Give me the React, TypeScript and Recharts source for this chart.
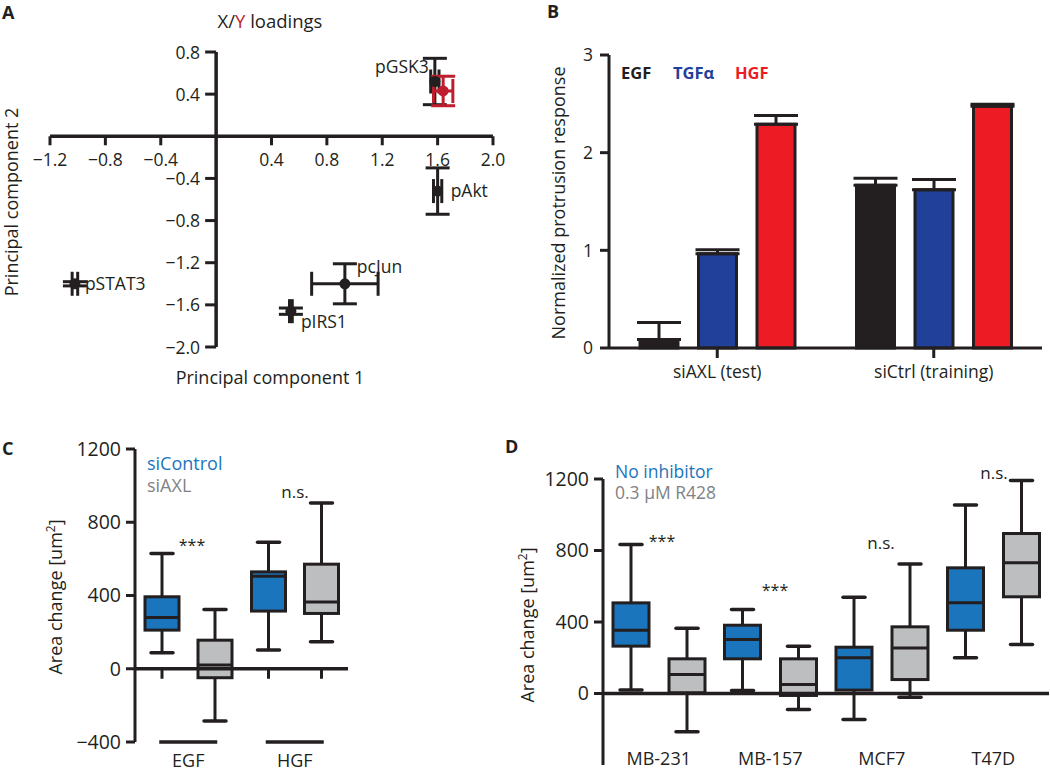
import React from 'react';
import {
  ScatterChart,
  Scatter,
  BarChart,
  Bar,
  XAxis,
  YAxis,
  ErrorBar,
  ReferenceLine,
} from 'recharts';

const FONT = "'Open Sans', 'Noto Sans', sans-serif";
const INK = '#231f20';
const RED_Y = '#be1e2d';
const BLUE_BOX = '#1b75bc';
const GRAY_BOX = '#bcbec0';
const GRAY_TEXT = '#808285';

// A: PCA loadings (X = phospho signals, Y = protrusion response)
const PC_NAMES = ['pGSK3', 'pAkt', 'pcJun', 'pIRS1', 'pSTAT3'];
const PC1 = [1.58, 1.6, 0.93, 0.54, -1.02];
const PC2 = [0.52, -0.52, -1.4, -1.66, -1.4];
const PC1_ERR = [0.03, 0.03, 0.24, 0.01, 0.02];
const PC2_ERR = [0.22, 0.22, 0.19, 0.03, 0.02];
const Y_PC1 = [1.64];
const Y_PC2 = [0.43];
const Y_PC1_ERR = [0.07];
const Y_PC2_ERR = [0.14];
const A_XTICKS = [-1.2, -0.8, -0.4, 0.4, 0.8, 1.2, 1.6, 2.0];
const A_YTICKS = [0.8, 0.4, -0.4, -0.8, -1.2, -1.6, -2.0];

// B: protrusion response per ligand
const B_GROUPS = ['siAXL (test)', 'siCtrl (training)'];
const EGF = [0.086, 1.667];
const EGF_SEM = [0.175, 0.07];
const TGFA = [0.965, 1.62];
const TGFA_SEM = [0.04, 0.105];
const HGF = [2.29, 2.475];
const HGF_SEM = [0.09, 0.02];

// C: box stats [min, q1, median, q3, max]
const C_GROUPS = ['EGF', 'HGF'];
const C_SICONTROL = [
  [87, 211, 280, 393, 629],
  [102, 315, 505, 529, 691],
];
const C_SIAXL = [
  [-285, -49, 20, 156, 324],
  [147, 302, 365, 571, 905],
];

// D: box stats [min, q1, median, q3, max]
const D_LINES = ['MB-231', 'MB-157', 'MCF7', 'T47D'];
const D_NO_INHIB = [
  [19, 265, 354, 507, 834],
  [17, 194, 302, 382, 470],
  [-145, 19, 200, 259, 539],
  [200, 354, 507, 703, 1054],
];
const D_R428 = [
  [-214, 4, 106, 194, 365],
  [-90, -11, 50, 194, 265],
  [-21, 78, 254, 373, 725],
  [274, 541, 731, 895, 1192],
];
const AREA_TICKS = [-400, 0, 400, 800, 1200];

// panel A plot box (the axes cross at the origin)
const A_W = 520;
const A_H = 400;
const A_LEFT = 50;
const A_RIGHT = 493;
const A_TOP = 52;
const A_BOTTOM = 347;
const A_XDOM: [number, number] = [-1.2, 2.0];
const A_YDOM: [number, number] = [-2.0, 0.8];
const A_ZERO_X = A_LEFT + ((0 - A_XDOM[0]) / (A_XDOM[1] - A_XDOM[0])) * (A_RIGHT - A_LEFT);
const A_ZERO_Y = A_TOP + ((A_YDOM[1] - 0) / (A_YDOM[1] - A_YDOM[0])) * (A_BOTTOM - A_TOP);

const LABEL_PLACE: Record<string, [number, number, 'start' | 'end']> = {
  pGSK3: [-6, -15, 'end'],
  pAkt: [13, 0, 'start'],
  pcJun: [12, -17, 'start'],
  pIRS1: [10, 11, 'start'],
  pSTAT3: [10, 0, 'start'],
};

const fmtSigned = (v: number, digits = 1) =>
  v < 0 ? `\u2212${Math.abs(v).toFixed(digits)}` : v.toFixed(digits);
const fmtArea = (v: number) => (v < 0 ? `\u2212${Math.abs(v)}` : String(v));

const xLoadings = PC_NAMES.map((name, i) => ({
  name,
  x: PC1[i],
  y: PC2[i],
  ex: PC1_ERR[i],
  ey: PC2_ERR[i],
}));
const yLoadings = Y_PC1.map((x, i) => ({
  name: 'protrusion',
  x,
  y: Y_PC2[i],
  ex: Y_PC1_ERR[i],
  ey: Y_PC2_ERR[i],
}));

const bData = B_GROUPS.map((group, i) => ({
  group,
  egf: EGF[i],
  egfErr: [0, EGF_SEM[i]],
  tgfa: TGFA[i],
  tgfaErr: [0, TGFA_SEM[i]],
  hgf: HGF[i],
  hgfErr: [0, HGF_SEM[i]],
}));

const cData = C_GROUPS.map((group, i) => ({ group, ctrl: C_SICONTROL[i], axl: C_SIAXL[i] }));
const dData = D_LINES.map((line, i) => ({ line, ctrl: D_NO_INHIB[i], r428: D_R428[i] }));

// draws a box-and-whisker glyph inside a [min, max] range bar
function boxShape(key: string, fill: string, zeroTick: boolean) {
  return (props: any) => {
    const { x, width, payload } = props;
    const stats: number[] = payload[key];
    const [mn, q1, md, q3, mx] = stats;
    const top = Math.min(props.y, props.y + props.height);
    const h = Math.abs(props.height);
    const py = (v: number) => top + ((mx - v) / (mx - mn)) * h;
    const cx = x + width / 2;
    const cap = 11;
    return (
      <g>
        {zeroTick && (
          <line x1={cx} x2={cx} y1={py(0)} y2={py(0) + 10} stroke={INK} strokeWidth={3} />
        )}
        <line x1={cx} x2={cx} y1={py(mx)} y2={py(mn)} stroke={INK} strokeWidth={3} />
        <line x1={cx - cap} x2={cx + cap} y1={py(mx)} y2={py(mx)} stroke={INK} strokeWidth={3.5} strokeLinecap="round" />
        <line x1={cx - cap} x2={cx + cap} y1={py(mn)} y2={py(mn)} stroke={INK} strokeWidth={3.5} strokeLinecap="round" />
        <rect x={x} y={py(q3)} width={width} height={py(q1) - py(q3)} fill={fill} stroke={INK} strokeWidth={3} />
        <line x1={x} x2={x + width} y1={py(md)} y2={py(md)} stroke={INK} strokeWidth={3} />
      </g>
    );
  };
}

function pointShape(color: string, withLabel: boolean) {
  return (props: any) => {
    const { cx, cy, payload } = props;
    const place = LABEL_PLACE[payload.name];
    return (
      <g>
        <circle cx={cx} cy={cy} r={5.5} fill={color} />
        {withLabel && place && (
          <text
            x={cx + place[0]}
            y={cy + place[1] + 6}
            textAnchor={place[2]}
            fontSize={17.5}
            fill={INK}
          >
            {payload.name}
          </text>
        )}
      </g>
    );
  };
}

const AXTick = (props: any) => {
  const { x, payload } = props;
  return (
    <g>
      <line x1={x} x2={x} y1={A_ZERO_Y} y2={A_ZERO_Y + 9} stroke={INK} strokeWidth={3} />
      <text x={x} y={A_ZERO_Y + 30} textAnchor="middle" fontSize={17.5} fill={INK}>
        {fmtSigned(payload.value)}
      </text>
    </g>
  );
};

const AYTick = (props: any) => {
  const { y, payload } = props;
  return (
    <g>
      <line x1={A_ZERO_X - 11} x2={A_ZERO_X} y1={y} y2={y} stroke={INK} strokeWidth={3} />
      <text x={A_ZERO_X - 16} y={y + 6.5} textAnchor="end" fontSize={17.5} fill={INK}>
        {fmtSigned(payload.value)}
      </text>
    </g>
  );
};

const CGroupTick = (props: any) => {
  const { x, y, payload } = props;
  return (
    <g>
      <line x1={x - 29} x2={x + 29} y1={y} y2={y} stroke={INK} strokeWidth={3.5} />
      <text x={x} y={y + 25} textAnchor="middle" fontSize={18} fill={INK}>
        {payload.value}
      </text>
    </g>
  );
};

const DLineTick = (props: any) => {
  const { x, y, payload } = props;
  return (
    <text x={x} y={y} textAnchor="middle" fontSize={18} fill={INK}>
      {payload.value}
    </text>
  );
};

const areaYAxis = (
  <YAxis
    type="number"
    domain={[-400, 1200]}
    ticks={AREA_TICKS}
    tickFormatter={fmtArea}
    width={1}
    tickSize={9}
    tickMargin={5}
    axisLine={{ stroke: INK, strokeWidth: 3 }}
    tickLine={{ stroke: INK, strokeWidth: 3 }}
    tick={{ fontSize: 19.5, fill: INK }}
  />
);

const abs = (left: number, top: number): React.CSSProperties => ({
  position: 'absolute',
  left,
  top,
});

export default function App() {
  return (
    <div
      style={{
        position: 'absolute',
        left: 0,
        top: 0,
        width: 1050,
        height: 774,
        background: '#fff',
        fontFamily: FONT,
        overflow: 'hidden',
      }}
    >
      {/* A */}
      <div style={abs(0, 0)}>
        <ScatterChart
          width={A_W}
          height={A_H}
          margin={{ top: A_TOP, right: A_W - A_RIGHT, bottom: A_H - A_BOTTOM - 1, left: A_LEFT - 1 }}
        >
          <XAxis
            type="number"
            dataKey="x"
            domain={A_XDOM}
            ticks={A_XTICKS}
            height={1}
            axisLine={false}
            tickLine={false}
            tick={<AXTick />}
          />
          <YAxis
            type="number"
            dataKey="y"
            domain={A_YDOM}
            ticks={A_YTICKS}
            width={1}
            axisLine={false}
            tickLine={false}
            tick={<AYTick />}
          />
          <ReferenceLine x={0} stroke={INK} strokeWidth={3.5} />
          <ReferenceLine y={0} stroke={INK} strokeWidth={3.5} />
          <Scatter data={xLoadings} isAnimationActive={false} shape={pointShape(INK, true)}>
            <ErrorBar dataKey="ex" direction="x" width={12} stroke={INK} strokeWidth={3} />
            <ErrorBar dataKey="ey" direction="y" width={12} stroke={INK} strokeWidth={3} />
          </Scatter>
          <Scatter data={yLoadings} isAnimationActive={false} shape={pointShape(RED_Y, false)}>
            <ErrorBar dataKey="ex" direction="x" width={12} stroke={RED_Y} strokeWidth={3} />
            <ErrorBar dataKey="ey" direction="y" width={12} stroke={RED_Y} strokeWidth={3} />
          </Scatter>
        </ScatterChart>
      </div>

      {/* B */}
      <div style={abs(520, 0)}>
        <BarChart
          width={530}
          height={400}
          data={bData}
          margin={{ top: 55, right: 8, bottom: 51, left: 88 }}
          barSize={38}
          barGap={20.5}
        >
          <XAxis
            dataKey="group"
            height={1}
            tickSize={10}
            tickMargin={8}
            axisLine={{ stroke: INK, strokeWidth: 3 }}
            tickLine={{ stroke: INK, strokeWidth: 3 }}
            tick={{ fontSize: 17.5, fill: INK }}
          />
          <YAxis
            type="number"
            domain={[0, 3]}
            ticks={[0, 1, 2, 3]}
            width={1}
            tickSize={9}
            tickMargin={7}
            axisLine={{ stroke: INK, strokeWidth: 3 }}
            tickLine={{ stroke: INK, strokeWidth: 3 }}
            tick={{ fontSize: 17.5, fill: INK }}
          />
          <Bar dataKey="egf" fill={INK} stroke={INK} strokeWidth={3} isAnimationActive={false}>
            <ErrorBar dataKey="egfErr" direction="y" width={22} stroke={INK} strokeWidth={3} />
          </Bar>
          <Bar dataKey="tgfa" fill="#21409a" stroke={INK} strokeWidth={3} isAnimationActive={false}>
            <ErrorBar dataKey="tgfaErr" direction="y" width={22} stroke={INK} strokeWidth={3} />
          </Bar>
          <Bar dataKey="hgf" fill="#ed1c24" stroke={INK} strokeWidth={3} isAnimationActive={false}>
            <ErrorBar dataKey="hgfErr" direction="y" width={22} stroke={INK} strokeWidth={3} />
          </Bar>
        </BarChart>
      </div>

      {/* C */}
      <div style={abs(0, 420)}>
        <BarChart
          width={420}
          height={354}
          data={cData}
          margin={{ top: 29, right: 72, bottom: 31, left: 134 }}
          barSize={34}
          barGap={19}
        >
          <XAxis
            dataKey="group"
            height={1}
            tickSize={0}
            tickMargin={0}
            axisLine={false}
            tickLine={false}
            tick={<CGroupTick />}
          />
          {areaYAxis}
          <ReferenceLine y={0} stroke={INK} strokeWidth={3.5} />
          <Bar
            dataKey={(d: any) => [d.ctrl[0], d.ctrl[4]]}
            shape={boxShape('ctrl', BLUE_BOX, true)}
            isAnimationActive={false}
          />
          <Bar
            dataKey={(d: any) => [d.axl[0], d.axl[4]]}
            shape={boxShape('axl', GRAY_BOX, true)}
            isAnimationActive={false}
          />
        </BarChart>
      </div>

      {/* D */}
      <div style={abs(420, 420)}>
        <BarChart
          width={630}
          height={354}
          data={dData}
          margin={{ top: 59, right: 1, bottom: 8, left: 182 }}
          barSize={36}
          barGap={20}
        >
          <XAxis
            dataKey="line"
            height={1}
            tickSize={0}
            tickMargin={0}
            axisLine={false}
            tickLine={false}
            tick={<DLineTick />}
          />
          {areaYAxis}
          <ReferenceLine y={0} stroke={INK} strokeWidth={3.5} />
          <Bar
            dataKey={(d: any) => [d.ctrl[0], d.ctrl[4]]}
            shape={boxShape('ctrl', BLUE_BOX, false)}
            isAnimationActive={false}
          />
          <Bar
            dataKey={(d: any) => [d.r428[0], d.r428[4]]}
            shape={boxShape('r428', GRAY_BOX, false)}
            isAnimationActive={false}
          />
        </BarChart>
      </div>

      {/* titles, axis labels, legends, annotations */}
      <svg
        width={1050}
        height={774}
        style={{ position: 'absolute', left: 0, top: 0, pointerEvents: 'none' }}
        fontFamily={FONT}
        fill={INK}
      >
        <g fontWeight="bold" fontSize={18}>
          <text x={2} y={19}>A</text>
          <text x={547} y={18}>B</text>
          <text x={2} y={455}>C</text>
          <text x={505} y={453}>D</text>
        </g>

        <text x={270} y={28} textAnchor="middle" fontSize={18.5}>
          X/<tspan fill={RED_Y}>Y</tspan> loadings
        </text>
        <text x={270} y={384} textAnchor="middle" fontSize={18}>
          Principal component 1
        </text>
        <text transform="translate(18,202) rotate(-90)" textAnchor="middle" fontSize={18}>
          Principal component 2
        </text>

        <text transform="translate(565,203) rotate(-90)" textAnchor="middle" fontSize={18}>
          Normalized protrusion response
        </text>
        <g fontWeight="bold" fontSize={16.5}>
          <text x={621} y={79} fill={INK}>EGF</text>
          <text x={673} y={79} fill="#21409a">TGF&#945;</text>
          <text x={735} y={79} fill="#ed1c24">HGF</text>
        </g>

        <text x={147} y={469.5} fontSize={18} fill={BLUE_BOX}>siControl</text>
        <text x={147} y={491.5} fontSize={18} fill={GRAY_TEXT}>siAXL</text>
        <text x={192} y={551} textAnchor="middle" fontSize={16}>***</text>
        <text x={295} y={498} textAnchor="middle" fontSize={17}>n.s.</text>
        <text transform="translate(62,597) rotate(-90)" textAnchor="middle" fontSize={18}>
          Area change [um<tspan dy={-7} fontSize={12}>2</tspan><tspan dy={7}>]</tspan>
        </text>

        <text x={615} y={478} fontSize={17.5} fill={BLUE_BOX}>No inhibitor</text>
        <text x={615} y={499} fontSize={17.5} fill={GRAY_TEXT}>0.3 &#181;M R428</text>
        <text x={662} y={547} textAnchor="middle" fontSize={16}>***</text>
        <text x={775} y={596} textAnchor="middle" fontSize={16}>***</text>
        <text x={881} y={549} textAnchor="middle" fontSize={17}>n.s.</text>
        <text x={994} y={479} textAnchor="middle" fontSize={17}>n.s.</text>
        <text transform="translate(534,625) rotate(-90)" textAnchor="middle" fontSize={18}>
          Area change [um<tspan dy={-7} fontSize={12}>2</tspan><tspan dy={7}>]</tspan>
        </text>
      </svg>
    </div>
  );
}
